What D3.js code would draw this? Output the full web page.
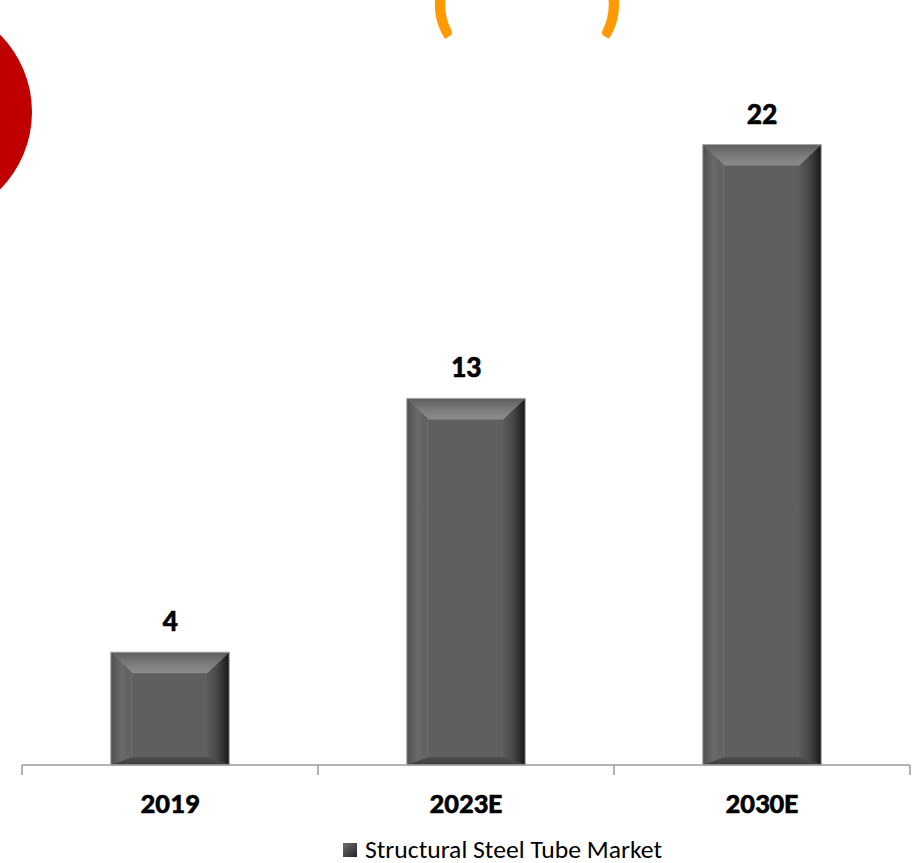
<!DOCTYPE html>
<html>
<head>
<meta charset="utf-8">
<script src="https://cdn.jsdelivr.net/npm/d3@7/dist/d3.min.js"></script>
<style>
  html, body { margin: 0; padding: 0; background: #ffffff; }
  svg { display: block; }
  text { font-family: Carlito, Calibri, Lato, "Open Sans", sans-serif; }
</style>
</head>
<body>
<svg id="chart" width="914" height="863"></svg>
<script>
// Market size by year
const categories = ["2019", "2023E", "2030E"];
const values = [4, 13, 22];
const seriesName = "Structural Steel Tube Market";

const W = 914, H = 863;
const svg = d3.select("#chart");

const axisLeft = 22, axisRight = 910, baseY = 765;

// one slot per category; bars take the middle 40% of each slot
const slot = d3.scaleBand().domain(categories).range([axisLeft, axisRight]).padding(0);
const barW = slot.bandwidth() * 0.4;
const y = d3.scaleLinear().domain([0, 25]).range([baseY, baseY - 25 * 28.2]);

// decorative header pieces running off the top edge
svg.append("circle").attr("cx", -78).attr("cy", 112).attr("r", 110).attr("fill", "#C00000");
[["(", 443], [")", 611]].forEach(([ch, px]) => {
  svg.append("text").attr("x", px).attr("y", 26).attr("text-anchor", "middle")
    .attr("font-size", 72).attr("font-weight", 700).attr("fill", "#FF9900")
    .attr("stroke", "#FF9900").attr("stroke-width", 2.5).text(ch);
});

// bevel gradients
const defs = svg.append("defs");
function grad(id, x1, y1, x2, y2, stops) {
  const g = defs.append("linearGradient").attr("id", id)
    .attr("x1", x1).attr("y1", y1).attr("x2", x2).attr("y2", y2);
  stops.forEach(s => g.append("stop").attr("offset", s[0]).attr("stop-color", s[1]));
}
grad("bvTop", 0, 0, 0, 1, [[0, "#5c5c5c"], [0.5, "#7a7a7a"], [1, "#8c8c8c"]]);
grad("bvLeft", 0, 0, 1, 0, [[0, "#4e4e4e"], [0.25, "#5e5e5e"], [0.5, "#6a6a6a"], [0.75, "#626262"], [1, "#686868"]]);
grad("bvRight", 0, 0, 1, 0, [[0, "#5a5a5a"], [0.4, "#4a4a4a"], [0.75, "#2e2e2e"], [1, "#161616"]]);
grad("bvBottom", 0, 0, 0, 1, [[0, "#505050"], [1, "#3a3a3a"]]);
grad("legendFill", 0, 0, 1, 1, [[0, "#6e6e6e"], [0.5, "#4a4a4a"], [1, "#222222"]]);

const bevelSide = 22, bevelTop = 21, bevelBottom = 8;

const bars = svg.append("g").selectAll("g").data(categories).join("g");
bars.each(function (c, i) {
  const g = d3.select(this);
  const x0 = slot(c) + (slot.bandwidth() - barW) / 2, x1 = x0 + barW;
  const y0 = y(values[i]), y1 = y(0);
  g.append("rect").attr("x", x0).attr("y", y0).attr("width", barW).attr("height", y1 - y0)
    .attr("fill", "#5f5f5f");
  const poly = pts => pts.map(p => p.join(",")).join(" ");
  g.append("polygon").attr("fill", "url(#bvLeft)")
    .attr("points", poly([[x0, y0], [x0 + bevelSide, y0 + bevelTop], [x0 + bevelSide, y1 - bevelBottom], [x0, y1]]));
  g.append("polygon").attr("fill", "url(#bvRight)")
    .attr("points", poly([[x1, y0], [x1, y1], [x1 - bevelSide, y1 - bevelBottom], [x1 - bevelSide, y0 + bevelTop]]));
  g.append("polygon").attr("fill", "url(#bvTop)")
    .attr("points", poly([[x0, y0], [x1, y0], [x1 - bevelSide, y0 + bevelTop], [x0 + bevelSide, y0 + bevelTop]]));
  g.append("polygon").attr("fill", "url(#bvBottom)")
    .attr("points", poly([[x0 + bevelSide, y1 - bevelBottom], [x1 - bevelSide, y1 - bevelBottom], [x1, y1], [x0, y1]]));
  g.append("rect").attr("x", x0).attr("y", y0).attr("width", barW).attr("height", y1 - y0)
    .attr("fill", "none").attr("stroke", "#a8a8a8").attr("stroke-width", 1);

  // value label
  g.append("text").attr("x", slot(c) + slot.bandwidth() / 2).attr("y", y0 - 21)
    .attr("text-anchor", "middle").attr("font-size", 30).attr("font-weight", 700)
    .attr("fill", "#000").attr("stroke", "#000").attr("stroke-width", 0.6).text(values[i]);
});

// category axis with ticks at slot boundaries
const axis = svg.append("g");
axis.append("line").attr("x1", axisLeft).attr("x2", axisRight).attr("y1", baseY).attr("y2", baseY)
  .attr("stroke", "#9a9a9a").attr("stroke-width", 1.5);
const bounds = categories.map(c => slot(c)).concat([slot(categories[categories.length - 1]) + slot.bandwidth()]);
axis.selectAll("line.tick").data(bounds).join("line").attr("class", "tick")
  .attr("x1", d => d).attr("x2", d => d).attr("y1", baseY).attr("y2", baseY + 10)
  .attr("stroke", "#9a9a9a").attr("stroke-width", 1.5);
axis.selectAll("text").data(categories).join("text")
  .attr("x", c => slot(c) + slot.bandwidth() / 2).attr("y", 813)
  .attr("text-anchor", "middle").attr("font-size", 29).attr("font-weight", 700)
  .attr("fill", "#000").attr("stroke", "#000").attr("stroke-width", 0.6).text(c => c);

// legend
const legend = svg.append("g");
legend.append("rect").attr("x", 343).attr("y", 843).attr("width", 14).attr("height", 14)
  .attr("fill", "url(#legendFill)");
legend.append("text").attr("x", 365).attr("y", 858).attr("font-size", 24)
  .attr("textLength", 297).attr("lengthAdjust", "spacingAndGlyphs")
  .attr("fill", "#000").text(seriesName);
</script>
</body>
</html>
